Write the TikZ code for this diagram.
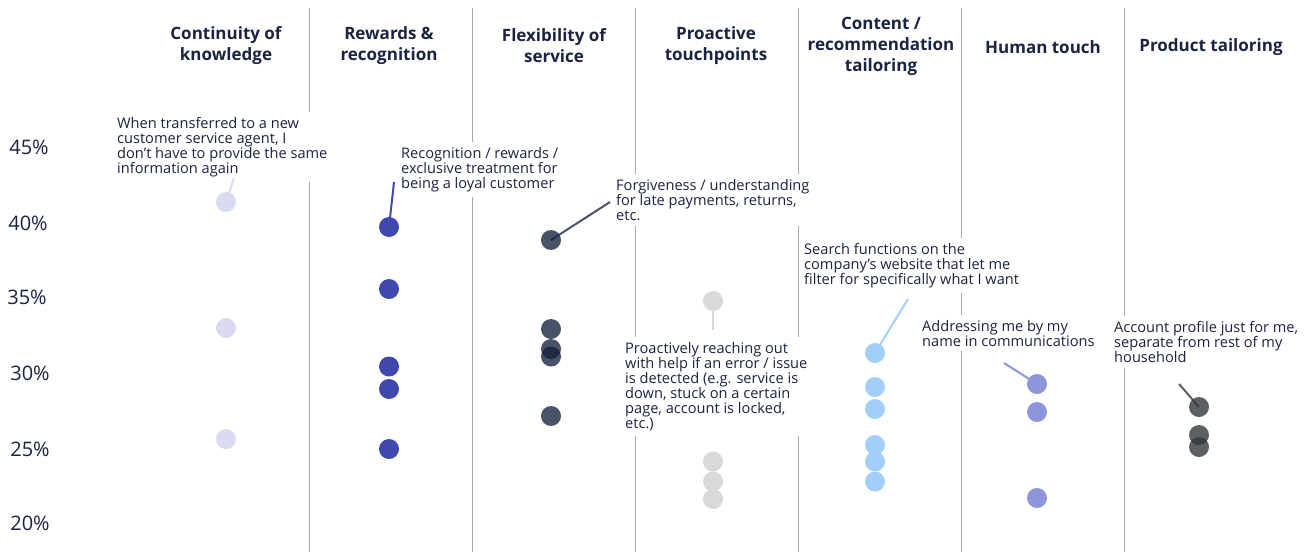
\documentclass[tikz,border=0pt]{standalone}
\usepackage{fontspec}
\setmainfont{Open Sans}
\usetikzlibrary{arrows}
\definecolor{navy}{HTML}{1A2440}
\definecolor{gridgray}{HTML}{A8A8A8}
\definecolor{lavender}{HTML}{D9DBF1}
\definecolor{royal}{HTML}{3F48AD}
\definecolor{slate}{HTML}{14213D}
\definecolor{greylight}{HTML}{D9D9D9}
\definecolor{skyblue}{HTML}{A2CFFA}
\definecolor{periwinkle}{HTML}{8E96DB}
\definecolor{charcoal}{HTML}{2E3538}
\tikzset{
  header/.style = {align=center, text=navy, font=\bfseries\fontsize{17}{21}\selectfont},
  pct/.style = {text=navy, font=\fontsize{20}{22}\selectfont},
  note/.style = {anchor=north west, align=left, fill=white, text=navy, inner xsep=3pt, inner ysep=5pt, font=\fontsize{14.6}{15}\selectfont},
  gridline/.style = {draw=gridgray, line width=1pt},
  dot/.style = {circle, inner sep=0pt, minimum size=20pt},
  leader/.style = {line width=2pt}
}

\begin{document}
\begin{tikzpicture}[x=1pt,y=-1pt]
\useasboundingbox (0,0) rectangle (1316,552);

% column rules
\draw [gridline] (309.5,8) -- (309.5,552);
\draw [gridline] (472.5,8) -- (472.5,552);
\draw [gridline] (635.5,8) -- (635.5,552);
\draw [gridline] (798.5,8) -- (798.5,552);
\draw [gridline] (961.5,8) -- (961.5,552);
\draw [gridline] (1124.5,8) -- (1124.5,552);

% headers
\node [header] (h1) at (226,45.5) {Continuity of\\knowledge};
\node [header] (h2) at (389,45.5) {Rewards \&\\recognition};
\node [header] (h3) at (554,45.5) {Flexibility of\\service};
\node [header] (h4) at (716,45.5) {Proactive\\touchpoints};
\node [header] (h5) at (881,46) {Content /\\recommendation\\tailoring};
\node [header] (h6) at (1043,47) {Human touch};
\node [header] (h7) at (1211,47) {Product tailoring};

% axis
\node [pct] (p45) at (29,147) {45\%};
\node [pct] (p40) at (28,223) {40\%};
\node [pct] (p35) at (27,297) {35\%};
\node [pct] (p30) at (30,373) {30\%};
\node [pct] (p25) at (30,449) {25\%};
\node [pct] (p20) at (30,523) {20\%};

% notes
\node [note] (n1) at (114,112) {When transferred to a new\\customer service agent, I\\don’t have to provide the same\\information again};
\node [note] (n2) at (398,142) {Recognition / rewards /\\exclusive treatment for\\being a loyal customer};
\node [note] (n3) at (613,174) {Forgiveness / understanding\\for late payments, returns,\\etc.};
\node [note] (n4) at (622,337) {Proactively reaching out\\with help if an error / issue\\is detected (e.g. service is\\down, stuck on a certain\\page, account is locked,\\etc.)};
\node [note] (n5) at (801,238) {Search functions on the\\company’s website that let me\\filter for specifically what I want};
\node [note] (n6) at (919,315) {Addressing me by my\\name in communications};
\node [note] (n7) at (1111,316) {Account profile just for me,\\separate from rest of my\\household};

% leader ends
\coordinate (e1) at (234,178);
\coordinate (e2) at (394,182);
\coordinate (e3) at (610,202);
\coordinate (e4) at (713,330);
\coordinate (e5) at (908,299);
\coordinate (e6) at (1004,363);
\coordinate (e7) at (1179,384);

\coordinate (t1) at (226,202);
\coordinate (t2) at (389,227);
\coordinate (t3) at (551,240);
\coordinate (t4) at (713,301);
\coordinate (t5) at (875,353);
\coordinate (t6) at (1037,384);
\coordinate (t7) at (1199,407);

\draw [leader, lavender] (t1) -- (e1);
\draw [leader, royal] (t2) -- (e2);
\draw [leader, slate, opacity=0.78] (t3) -- (e3);
\draw [leader, greylight] (t4) -- (e4);
\draw [leader, skyblue] (t5) -- (e5);
\draw [leader, periwinkle] (t6) -- (e6);
\draw [leader, charcoal, opacity=0.78] (t7) -- (e7);

% dots
\node [dot, fill=lavender] (d1a) at (t1) {};
\node [dot, fill=lavender] (d1b) at (226,328) {};
\node [dot, fill=lavender] (d1c) at (226,439) {};

\node [dot, fill=royal] (d2a) at (t2) {};
\node [dot, fill=royal] (d2b) at (389,289) {};
\node [dot, fill=royal] (d2c) at (389,366.5) {};
\node [dot, fill=royal] (d2d) at (389,389) {};
\node [dot, fill=royal] (d2e) at (389,449) {};

\node [dot, fill=slate, fill opacity=0.78] (d3a) at (t3) {};
\node [dot, fill=slate, fill opacity=0.78] (d3b) at (551,329) {};
\node [dot, fill=slate, fill opacity=0.78] (d3c) at (551,349) {};
\node [dot, fill=slate, fill opacity=0.78] (d3d) at (551,356.5) {};
\node [dot, fill=slate, fill opacity=0.78] (d3e) at (551,416) {};

\node [dot, fill=greylight] (d4a) at (t4) {};
\node [dot, fill=greylight] (d4b) at (713,461.5) {};
\node [dot, fill=greylight] (d4c) at (713,481.5) {};
\node [dot, fill=greylight] (d4d) at (713,499) {};

\node [dot, fill=skyblue] (d5a) at (t5) {};
\node [dot, fill=skyblue] (d5b) at (875,387) {};
\node [dot, fill=skyblue] (d5c) at (875,409) {};
\node [dot, fill=skyblue] (d5d) at (875,445) {};
\node [dot, fill=skyblue] (d5e) at (875,461.5) {};
\node [dot, fill=skyblue] (d5f) at (875,481.5) {};

\node [dot, fill=periwinkle] (d6a) at (t6) {};
\node [dot, fill=periwinkle] (d6b) at (1037,412) {};
\node [dot, fill=periwinkle] (d6c) at (1037,498) {};

\node [dot, fill=charcoal, fill opacity=0.78] (d7a) at (t7) {};
\node [dot, fill=charcoal, fill opacity=0.78] (d7b) at (1199,435) {};
\node [dot, fill=charcoal, fill opacity=0.78] (d7c) at (1199,447) {};
\end{tikzpicture}
\end{document}
